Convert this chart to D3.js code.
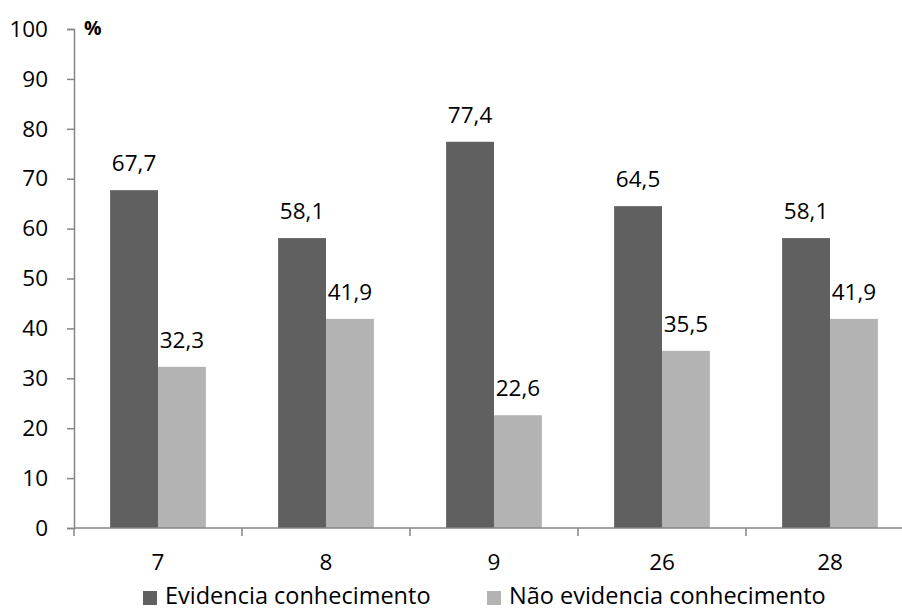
<!DOCTYPE html>
<html>
<head>
<meta charset="utf-8">
<script src="https://cdn.jsdelivr.net/npm/d3@7"></script>
<style>
  body { margin: 0; background: #fff; }
  text { font-family: "Open Sans", Lato, sans-serif; fill: #000; }
</style>
</head>
<body>
<svg id="chart" width="902" height="610"></svg>
<script>
// Data
const categories = ["7", "8", "9", "26", "28"];
const seriesNames = ["Evidencia conhecimento", "Não evidencia conhecimento"];
const evidencia = [67.7, 58.1, 77.4, 64.5, 58.1];
const naoEvidencia = [32.3, 41.9, 22.6, 35.5, 41.9];
const yTicks = [0, 10, 20, 30, 40, 50, 60, 70, 80, 90, 100];
const colors = ["#606060", "#b3b3b3"];

const svg = d3.select("#chart");
const left = 74, zeroY = 528, topY = 29;
const band = 168;
const fontSize = 22.5;
const legendFont = 23.5;

const x = d3.scaleBand().domain(categories)
  .range([left, left + band * categories.length]).paddingInner(0).paddingOuter(0);
const y = d3.scaleLinear().domain([0, 100]).range([zeroY, topY]);
const barW = band * 0.285;
const inner = d3.scaleBand().domain([0, 1]).range([0, barW * 2]);

const axisColor = "#868686";

// Y axis
const yAxis = svg.append("g").attr("transform", `translate(${left},0)`)
  .call(d3.axisLeft(y).tickValues(yTicks).tickSize(7).tickPadding(19).tickFormat(d3.format("d")));
yAxis.select(".domain").attr("stroke", axisColor).attr("stroke-width", 1.5);
yAxis.selectAll(".tick line").attr("stroke", axisColor).attr("stroke-width", 1.5);
yAxis.selectAll(".tick text").attr("font-size", fontSize)
  .attr("font-family", "'Open Sans', sans-serif").attr("fill", "#000");

// "%" unit label
svg.append("text").attr("x", 84).attr("y", 35).attr("font-size", 19.5)
  .attr("font-weight", "bold").text("%");

// Bars with value labels
const series = [evidencia, naoEvidencia];
series.forEach((vals, s) => {
  const bx = (i) => x(categories[i]) + band / 2 - barW + inner(s);
  svg.append("g").selectAll("rect").data(vals).join("rect")
    .attr("x", (d, i) => bx(i))
    .attr("y", d => y(d))
    .attr("width", barW)
    .attr("height", d => y(0) - y(d))
    .attr("fill", colors[s]);
  svg.append("g").selectAll("text").data(vals).join("text")
    .attr("x", (d, i) => bx(i) + barW / 2)
    .attr("y", d => y(d) - 19)
    .attr("text-anchor", "middle")
    .attr("font-size", fontSize)
    .text(d => d3.format(".1f")(d).replace(".", ","));
});

// X axis
const xAxisG = svg.append("g").attr("transform", `translate(0,${zeroY})`);
xAxisG.append("line").attr("x1", left).attr("x2", 902).attr("y1", 0).attr("y2", 0)
  .attr("stroke", axisColor).attr("stroke-width", 1.5);
xAxisG.selectAll("line.tk").data(categories).join("line").attr("class", "tk")
  .attr("x1", d => x(d)).attr("x2", d => x(d)).attr("y1", 0).attr("y2", 8)
  .attr("stroke", axisColor).attr("stroke-width", 1.5);
xAxisG.selectAll("text.lbl").data(categories).join("text").attr("class", "lbl")
  .attr("x", d => x(d) + band / 2).attr("y", 42)
  .attr("text-anchor", "middle").attr("font-size", fontSize).text(d => d);

// Legend
const legendX = [143, 487];
const lg = svg.append("g");
seriesNames.forEach((name, i) => {
  lg.append("rect").attr("x", legendX[i]).attr("y", 591).attr("width", 14).attr("height", 14)
    .attr("fill", colors[i]);
  lg.append("text").attr("x", legendX[i] + 22).attr("y", 604).attr("font-size", legendFont).text(name);
});
</script>
</body>
</html>
